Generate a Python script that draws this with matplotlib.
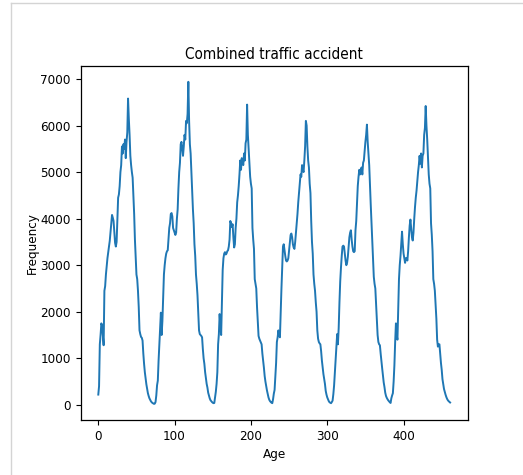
import matplotlib
matplotlib.use("Agg")
import matplotlib.pyplot as plt
from matplotlib.lines import Line2D

# Frequencies per age index (six repeating waves)
wave1 = [220, 400, 1300, 1500, 1750, 1700, 1500, 1280, 2450, 2550,
         2800, 2980, 3150, 3280, 3400, 3520, 3700, 3880, 4080, 4020,
         3950, 3700, 3480, 3400, 3500, 3950, 4450, 4520, 4700, 5000,
         5150, 5550, 5400, 5600, 5500, 5700, 5300, 5650, 5850, 6580,
         6150, 5800, 5350, 5150, 5000, 4880, 4500, 4100, 3550, 3200,
         2800, 2700, 2450, 2100, 1600, 1520, 1460, 1440, 1380, 1100,
         880, 700, 560, 440, 340, 250, 190, 140, 105, 75,
         55, 40, 30, 20, 25]
wave2 = [60, 200, 420, 520, 950, 1300, 1650, 1980, 1500, 1800,
         2300, 2800, 3000, 3150, 3250, 3300, 3320, 3550, 3800, 3900,
         4100, 4120, 4050, 3800, 3750, 3700, 3650, 3700, 4000, 4200,
         4650, 5000, 5200, 5600, 5650, 5500, 5350, 5550, 5800, 5700,
         6100, 6050, 6250, 6940, 6100, 5600, 5400, 5000, 4650, 4200,
         3900, 3450, 3200, 2800, 2600, 2350, 2000, 1600, 1520, 1500,
         1480, 1450, 1200, 1000, 880, 700, 580, 450, 370, 260,
         200, 140, 100, 80, 60, 45, 35]
wave3 = [40, 160, 280, 450, 700, 1300, 1520, 1950, 1700, 1500,
         2250, 2900, 3150, 3250, 3280, 3230, 3250, 3300, 3320, 3400,
         3550, 3950, 3900, 3820, 3880, 3600, 3380, 3450, 3800, 4000,
         4350, 4500, 4700, 4950, 5250, 5050, 5300, 5200, 5150, 5400,
         5250, 5620, 5700, 6450, 5800, 5500, 5200, 4900, 4750, 4650,
         3800, 3550, 3350, 2700, 2600, 2500, 2100, 1800, 1480, 1420,
         1380, 1340, 1300, 1100, 950, 800, 620, 500, 400, 310,
         230, 160, 110, 80, 60, 45, 35, 120]
wave4 = [240, 320, 600, 900, 1350, 1450, 1600, 1500, 1450, 2000,
         2500, 2950, 3400, 3450, 3320, 3200, 3100, 3080, 3100, 3150,
         3320, 3500, 3650, 3680, 3600, 3450, 3380, 3350, 3500, 3700,
         3900, 4100, 4350, 4550, 4750, 4950, 4900, 5150, 5050, 5000,
         5250, 5550, 6100, 6000, 5550, 5250, 5100, 4750, 4550, 3950,
         3500, 3250, 2800, 2600, 2450, 2200, 2000, 1600, 1420, 1350,
         1320, 1300, 1150, 950, 800, 660, 550, 450, 300, 220,
         160, 120, 80, 55, 45, 35, 60]
wave5 = [90, 230, 420, 700, 1000, 1250, 1520, 1300, 1650, 2200,
         2650, 2950, 3200, 3400, 3420, 3400, 3250, 3100, 3000, 3050,
         3180, 3400, 3600, 3700, 3750, 3550, 3400, 3300, 3280, 3300,
         3750, 3950, 4300, 4700, 4900, 5050, 4950, 5050, 5100, 4950,
         5200, 5250, 5450, 5650, 5800, 6020, 5650, 5400, 5150, 4700,
         4300, 3900, 3500, 3100, 2750, 2600, 2500, 2150, 1800, 1500,
         1350, 1300, 1280, 1100, 950, 780, 620, 480, 380, 260,
         190, 150, 120, 95, 75, 55, 40]
wave6 = [140, 200, 250, 500, 850, 1350, 1750, 1500, 1400, 2100,
         2700, 3000, 3200, 3450, 3720, 3450, 3250, 3150, 3050, 3150,
         3150, 3100, 3300, 3600, 3850, 3980, 3800, 3600, 3530, 3700,
         4000, 4250, 4450, 4600, 4800, 5000, 5150, 5350, 5180, 5400,
         5100, 5350, 5400, 5800, 5950, 6420, 6000, 5700, 5350, 4950,
         4750, 4650, 3900, 3650, 3300, 2700, 2600, 2450, 2150, 1850,
         1400, 1250, 1300, 1300, 1100, 900, 750, 550, 450, 340,
         280, 220, 170, 130, 100, 80, 65, 50]

freq = wave1 + wave2 + wave3 + wave4 + wave5 + wave6
age = list(range(len(freq)))

title = "Combined traffic accident"
xlabel = "Age"
ylabel = "Frequency"
xticks = [0, 100, 200, 300, 400]
yticks = [0, 1000, 2000, 3000, 4000, 5000, 6000, 7000]

plt.rcParams['font.family'] = ['DejaVu Sans']
plt.rcParams['font.stretch'] = 'condensed'

fig = plt.figure(figsize=(5.23, 4.75), dpi=100)
ax = fig.add_axes([80.7 / 523, 1 - 420 / 475, (467.7 - 80.7) / 523, (420 - 65.7) / 475])

ax.plot(age, freq, color='#1f77b4', linewidth=1.4)
ax.set_title(title, fontsize=11, pad=5)
ax.set_xlabel(xlabel, fontsize=9.6, labelpad=4)
ax.set_ylabel(ylabel, fontsize=9.6, labelpad=1)
ax.set_xticks(xticks)
ax.set_yticks(yticks)
ax.tick_params(labelsize=9.6, length=3.5, width=0.8, pad=3.5)
for s in ax.spines.values():
    s.set_linewidth(0.9)

# light gray frame of the notebook cell
fig.add_artist(Line2D([11 / 523, 11 / 523], [0, 1 - 2.5 / 475], transform=fig.transFigure,
                      color='#d4d4d4', linewidth=1.0))
fig.add_artist(Line2D([11 / 523, 1], [1 - 2.5 / 475, 1 - 2.5 / 475], transform=fig.transFigure,
                      color='#d4d4d4', linewidth=1.0))

fig.savefig("out.png", dpi=100)
